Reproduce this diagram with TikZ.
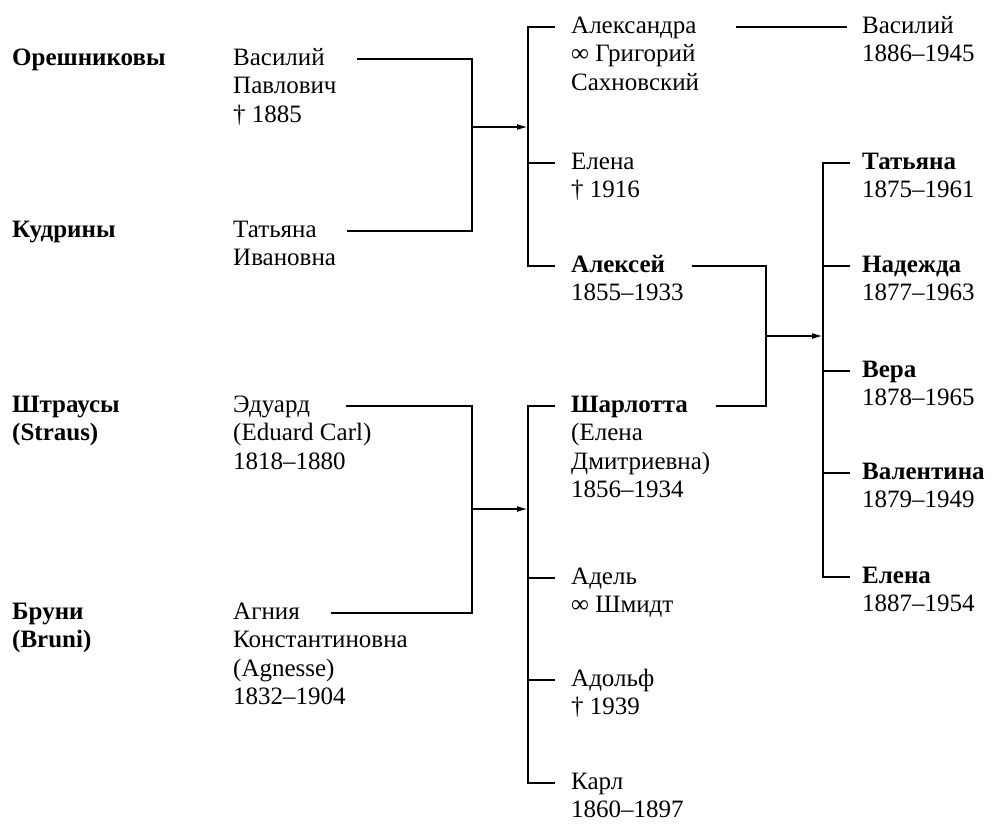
\documentclass[tikz,border=0pt]{standalone}
\usepackage{fontspec}
\setmainfont{Liberation Serif}
\usetikzlibrary{arrows.meta,positioning}
\tikzset{
        % first line of an entry
        entry/.style={anchor=base west, inner sep=0pt, font=\fontsize{25}{28.5}\selectfont},
        entry_bold/.style={entry, font=\fontsize{25}{28.5}\selectfont\bfseries},
        % the lines under it (base = last line)
        details/.style={entry, align=left},
        details_bold/.style={entry_bold, align=left},
        % connectors
        link/.style={line width=1.7pt},
        link_arrow/.style={link, -{Latex[length=11pt,width=6pt]}}
}

\begin{document}
\begin{tikzpicture}[x=1pt, y=-1pt]
            \useasboundingbox (0,0) rectangle (993,825);
            % families
            \node[entry_bold] (oreshnikovy) at (12,65) {Орешниковы};
            \node[entry_bold] (kudriny) at (12,237) {Кудрины};
            \node[entry_bold] (strausy) at (12,412) {Штраусы};
            \node[details_bold, below=28.5pt of strausy.base west, anchor=base west] (strausy_d) {(Straus)};
            \node[entry_bold] (bruni) at (12,619) {Бруни};
            \node[details_bold, below=28.5pt of bruni.base west, anchor=base west] (bruni_d) {(Bruni)};
            % parents
            \node[entry] (vasiliy_p) at (233,65) {Василий};
            \node[details, below=57pt of vasiliy_p.base west, anchor=base west] (vasiliy_p_d) {Павлович\\† 1885};
            \node[entry] (tatiana_i) at (233,237) {Татьяна};
            \node[details, below=28.5pt of tatiana_i.base west, anchor=base west] (tatiana_i_d) {Ивановна};
            \node[entry] (eduard) at (233,412) {Эдуард};
            \node[details, below=57pt of eduard.base west, anchor=base west] (eduard_d) {(Eduard Carl)\\1818–1880};
            \node[entry] (agnia) at (233,619) {Агния};
            \node[details, below=85.5pt of agnia.base west, anchor=base west] (agnia_d) {Константиновна\\(Agnesse)\\1832–1904};
            % children
            \node[entry] (aleksandra) at (571,33) {Александра};
            \node[details, below=57pt of aleksandra.base west, anchor=base west] (aleksandra_d) {∞ Григорий\\Сахновский};
            \node[entry] (elena_v) at (571,169) {Елена};
            \node[details, below=28.5pt of elena_v.base west, anchor=base west] (elena_v_d) {† 1916};
            \node[entry_bold] (aleksey) at (571,272) {Алексей};
            \node[details, below=28.5pt of aleksey.base west, anchor=base west] (aleksey_d) {1855–1933};
            \node[entry_bold] (sharlotta) at (571,412) {Шарлотта};
            \node[details, below=85.5pt of sharlotta.base west, anchor=base west] (sharlotta_d) {(Елена\\Дмитриевна)\\1856–1934};
            \node[entry] (adel) at (571,584) {Адель};
            \node[details, below=28.5pt of adel.base west, anchor=base west] (adel_d) {∞ Шмидт};
            \node[entry] (adolf) at (571,686) {Адольф};
            \node[details, below=28.5pt of adolf.base west, anchor=base west] (adolf_d) {† 1939};
            \node[entry] (karl) at (571,789) {Карл};
            \node[details, below=28.5pt of karl.base west, anchor=base west] (karl_d) {1860–1897};
            % grandchildren
            \node[entry] (vasiliy_s) at (862,33) {Василий};
            \node[details, below=28.5pt of vasiliy_s.base west, anchor=base west] (vasiliy_s_d) {1886–1945};
            \node[entry_bold] (tatiana) at (862,169) {Татьяна};
            \node[details, below=28.5pt of tatiana.base west, anchor=base west] (tatiana_d) {1875–1961};
            \node[entry_bold] (nadezhda) at (862,272) {Надежда};
            \node[details, below=28.5pt of nadezhda.base west, anchor=base west] (nadezhda_d) {1877–1963};
            \node[entry_bold] (vera) at (862,377) {Вера};
            \node[details, below=28.5pt of vera.base west, anchor=base west] (vera_d) {1878–1965};
            \node[entry_bold] (valentina) at (862,479) {Валентина};
            \node[details, below=28.5pt of valentina.base west, anchor=base west] (valentina_d) {1879–1949};
            \node[entry_bold] (elena_a) at (862,583) {Елена};
            \node[details, below=28.5pt of elena_a.base west, anchor=base west] (elena_a_d) {1887–1954};

            % marriages
            \coordinate (join_top) at (472,127);
            \coordinate (join_bottom) at (472,509);
            \coordinate (join_right) at (766,336);
            \draw[link] ([shift={(32pt,6pt)}]vasiliy_p.base east) -| (join_top) |- ([shift={(30pt,6pt)}]tatiana_i.base east);
            \draw[link] ([shift={(36pt,6pt)}]eduard.base east) -| (join_bottom) |- ([shift={(31pt,6pt)}]agnia.base east);
            \draw[link] ([shift={(27pt,6pt)}]aleksey.base east) -| (join_right) |- ([shift={(28pt,6pt)}]sharlotta.base east);

            % children brackets
            \draw[link] ([shift={(-16pt,6pt)}]aleksandra.base west) -- ++(-27pt,0) coordinate (bracket_top) |- ([shift={(-16pt,6pt)}]aleksey.base west);
            \draw[link] ([shift={(-16pt,6pt)}]elena_v.base west) -- ++(-27pt,0);
            \draw[link_arrow] (join_top) -- (join_top -| bracket_top);

            \draw[link] ([shift={(-16pt,6pt)}]sharlotta.base west) -- ++(-27pt,0) coordinate (bracket_bottom) |- ([shift={(-16pt,6pt)}]karl.base west);
            \draw[link] ([shift={(-16pt,6pt)}]adel.base west) -- ++(-27pt,0);
            \draw[link] ([shift={(-16pt,6pt)}]adolf.base west) -- ++(-27pt,0);
            \draw[link_arrow] (join_bottom) -- (join_bottom -| bracket_bottom);

            \draw[link] ([shift={(-12pt,6pt)}]tatiana.base west) -- ++(-27pt,0) coordinate (bracket_right) |- ([shift={(-12pt,6pt)}]elena_a.base west);
            \draw[link] ([shift={(-12pt,6pt)}]nadezhda.base west) -- ++(-27pt,0);
            \draw[link] ([shift={(-12pt,6pt)}]vera.base west) -- ++(-27pt,0);
            \draw[link] ([shift={(-12pt,6pt)}]valentina.base west) -- ++(-27pt,0);
            \draw[link_arrow] (join_right) -- (join_right -| bracket_right);

            % grandson
            \draw[link] ([shift={(39pt,6pt)}]aleksandra.base east) -- ([shift={(-15pt,6pt)}]vasiliy_s.base west);
\end{tikzpicture}
\end{document}
